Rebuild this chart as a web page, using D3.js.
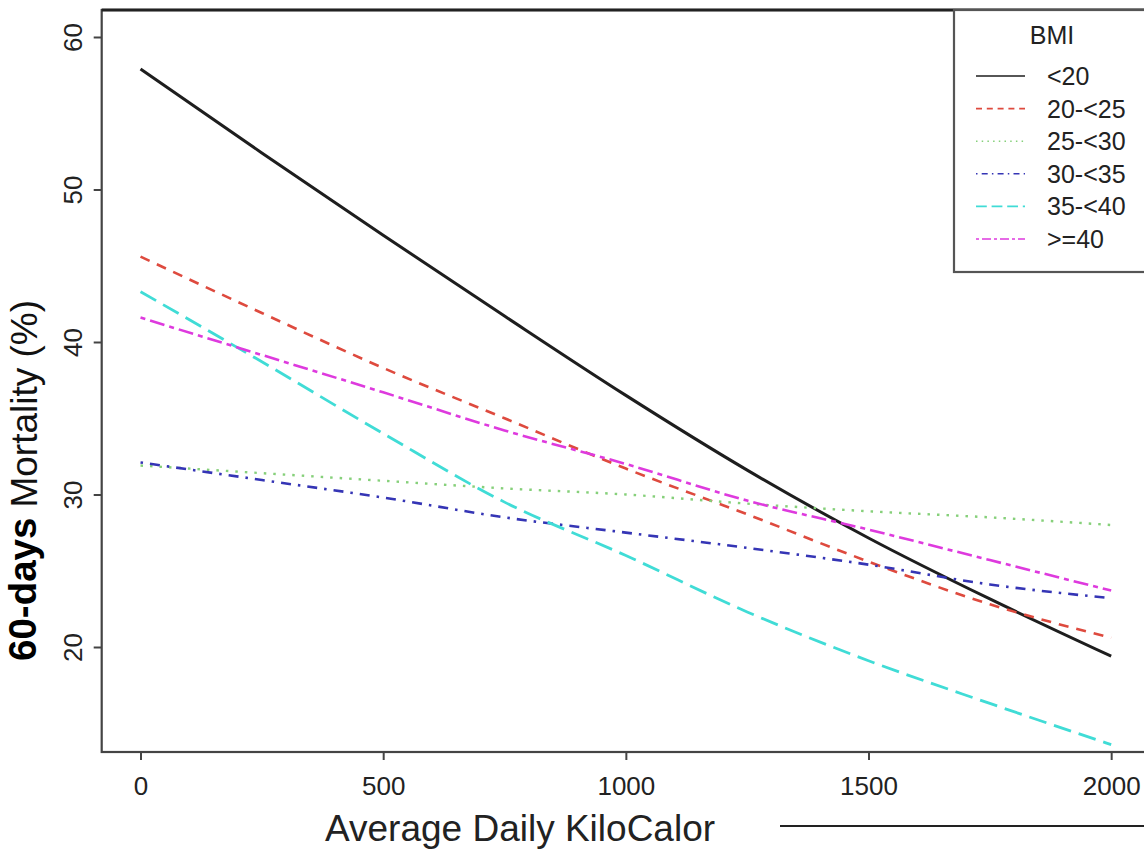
<!DOCTYPE html>
<html>
<head>
<meta charset="utf-8">
<script src="https://cdn.jsdelivr.net/npm/d3@7/dist/d3.min.js"></script>
<style>
  html, body { margin: 0; padding: 0; background: #fff; }
  svg { display: block; }
  text { font-family: "Liberation Sans", Arial, Helvetica, sans-serif; fill: #222; }
</style>
</head>
<body>
<svg id="chart" width="1144" height="850"></svg>
<script>
// ---- data ----
const kcal = [0, 250, 500, 750, 1000, 1250, 1500, 1750, 2000];
const bmiLt20   = [57.9, 52.4, 47.0, 41.7, 36.5, 31.6, 27.15, 23.15, 19.4];
const bmi20to25 = [45.6, 41.9, 38.3, 35.0, 31.7, 28.7, 25.6, 22.8, 20.6];
const bmi25to30 = [31.9, 31.4, 30.9, 30.4, 30.0, 29.4, 28.9, 28.5, 28.0];
const bmi30to35 = [32.1, 30.95, 29.8, 28.5, 27.5, 26.5, 25.4, 24.1, 23.2];
const bmi35to40 = [43.3, 38.7, 34.0, 29.5, 26.0, 22.3, 19.1, 16.3, 13.6];
const bmiGe40   = [41.6, 39.15, 36.7, 34.2, 32.0, 29.6, 27.7, 25.7, 23.7];
const seriesNames = ["<20", "20-<25", "25-<30", "30-<35", "35-<40", ">=40"];
const xTicks = [0, 500, 1000, 1500, 2000];
const yTicks = [20, 30, 40, 50, 60];
const legendTitle = "BMI";
const xTitle = "Average Daily KiloCalor";
const yTitleBold = "60-days";
const yTitleRest = "Mortality (%)";

const seriesValues = [bmiLt20, bmi20to25, bmi25to30, bmi30to35, bmi35to40, bmiGe40];
const colors = ["#1e1e1e", "#de4a3e", "#86d07a", "#3535b5", "#40dcd6", "#de3ade"];
const dashes = [null, "10,8", "2.5,7", "2.5,7,10,7", "18,8", "5,5,15,5"];
const widths = [3, 2.6, 2.4, 2.6, 2.8, 2.6];

const svg = d3.select("#chart");

const pLeft = 101.7, pRight = 1150, pTop = 10, pBottom = 752;
const x = d3.scaleLinear().domain([-80, 2080]).range([pLeft, pRight]);
const y = d3.scaleLinear().domain([13.115, 61.77]).range([pBottom, pTop]);

// lines
const line = d3.line()
  .x(d => x(d[0]))
  .y(d => y(d[1]))
  .curve(d3.curveMonotoneX);

const plot = svg.append("g");
seriesValues.forEach((vals, i) => {
  plot.append("path")
    .datum(kcal.map((k, j) => [k, vals[j]]))
    .attr("d", line)
    .attr("fill", "none")
    .attr("stroke", colors[i])
    .attr("stroke-width", widths[i])
    .attr("stroke-dasharray", dashes[i])
    .attr("stroke-linecap", "butt");
});

// frame
svg.append("rect")
  .attr("x", pLeft).attr("y", pTop)
  .attr("width", pRight - pLeft).attr("height", pBottom - pTop)
  .attr("fill", "none").attr("stroke", "#444").attr("stroke-width", 2.2);
svg.append("line")
  .attr("x1", pLeft).attr("x2", 1144).attr("y1", pTop).attr("y2", pTop)
  .attr("stroke", "#222").attr("stroke-width", 3);

// x axis
const xAxis = d3.axisBottom(x).tickValues(xTicks).tickSize(8).tickPadding(6).tickFormat(d3.format("d"));
const gx = svg.append("g").attr("transform", `translate(0,${pBottom})`).call(xAxis);
gx.select(".domain").remove();
gx.selectAll(".tick line").attr("stroke", "#444").attr("stroke-width", 2);
gx.selectAll(".tick text")
  .attr("font-size", 26).attr("fill", "#222")
  .attr("font-family", "'Liberation Sans', Arial, sans-serif")
  .attr("dy", null).attr("y", 43);

// y axis
const yAxis = d3.axisLeft(y).tickValues(yTicks).tickSize(8).tickFormat(d3.format("d"));
const gy = svg.append("g").attr("transform", `translate(${pLeft},0)`).call(yAxis);
gy.select(".domain").remove();
gy.selectAll(".tick line").attr("stroke", "#444").attr("stroke-width", 2);
gy.selectAll(".tick text")
  .attr("font-size", 26).attr("fill", "#222")
  .attr("font-family", "'Liberation Sans', Arial, sans-serif")
  .attr("x", null).attr("dy", null)
  .attr("text-anchor", "middle")
  .attr("transform", "translate(-20,0) rotate(-90)");

// y title
const yt = svg.append("text")
  .attr("transform", "translate(36,661) rotate(-90)")
  .attr("text-anchor", "start");
yt.append("tspan").attr("font-weight", "bold").attr("font-size", 38.5).attr("fill", "#000").text(yTitleBold);
yt.append("tspan").attr("font-size", 37).attr("dx", 10).attr("dy", 1).attr("fill", "#111").text(yTitleRest);

// x title
svg.append("text")
  .attr("x", 325).attr("y", 841)
  .attr("font-size", 37).attr("fill", "#111")
  .text(xTitle);

// rule at bottom right
svg.append("line")
  .attr("x1", 780).attr("x2", 1144).attr("y1", 826).attr("y2", 826)
  .attr("stroke", "#222").attr("stroke-width", 2);

// legend
const lg = svg.append("g");
lg.append("rect")
  .attr("x", 954).attr("y", pTop).attr("width", 220).attr("height", 262)
  .attr("fill", "#fff").attr("stroke", "#555").attr("stroke-width", 2.2);
lg.append("text").attr("x", 1052).attr("y", 44).attr("text-anchor", "middle")
  .attr("font-size", 25).text(legendTitle);
const rowY = d3.scaleLinear().domain([0, 5]).range([76, 239]);
seriesNames.forEach((name, i) => {
  const yy = rowY(i);
  lg.append("line")
    .attr("x1", 976).attr("x2", 1025).attr("y1", yy).attr("y2", yy)
    .attr("stroke", colors[i]).attr("stroke-width", 1.6)
    .attr("stroke-dasharray", dashes[i] ? dashes[i].split(",").map(v => v * 0.6).join(",") : null);
  lg.append("text").attr("x", 1047).attr("y", yy + 9)
    .attr("font-size", 25).text(name);
});
</script>
</body>
</html>
